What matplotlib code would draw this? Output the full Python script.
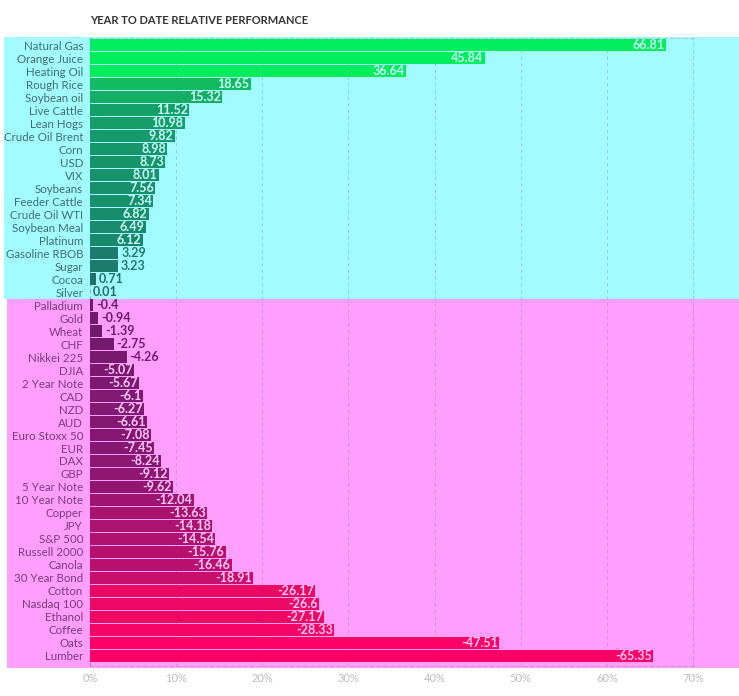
import numpy as np
import matplotlib.pyplot as plt
from matplotlib.colors import LinearSegmentedColormap
from matplotlib.patches import Rectangle
import matplotlib.transforms as mtransforms

plt.rcParams['font.family'] = ['Lato', 'DejaVu Sans']

# Year to date performance (%)
names = ['Natural Gas', 'Orange Juice', 'Heating Oil', 'Rough Rice', 'Soybean oil',
         'Live Cattle', 'Lean Hogs', 'Crude Oil Brent', 'Corn', 'USD', 'VIX',
         'Soybeans', 'Feeder Cattle', 'Crude Oil WTI', 'Soybean Meal', 'Platinum',
         'Gasoline RBOB', 'Sugar', 'Cocoa', 'Silver',
         'Palladium', 'Gold', 'Wheat', 'CHF', 'Nikkei 225', 'DJIA', '2 Year Note',
         'CAD', 'NZD', 'AUD', 'Euro Stoxx 50', 'EUR', 'DAX', 'GBP', '5 Year Note',
         '10 Year Note', 'Copper', 'JPY', 'S&P 500', 'Russell 2000', 'Canola',
         '30 Year Bond', 'Cotton', 'Nasdaq 100', 'Ethanol', 'Coffee', 'Oats', 'Lumber']
values = [66.81, 45.84, 36.64, 18.65, 15.32, 11.52, 10.98, 9.82, 8.98, 8.73, 8.01,
          7.56, 7.34, 6.82, 6.49, 6.12, 3.29, 3.23, 0.71, 0.01,
          -0.4, -0.94, -1.39, -2.75, -4.26, -5.07, -5.67, -6.1, -6.27, -6.61, -7.08,
          -7.45, -8.24, -9.12, -9.62, -12.04, -13.63, -14.18, -14.54, -15.76, -16.46,
          -18.91, -26.17, -26.6, -27.17, -28.33, -47.51, -65.35]
ticks = [0, 10, 20, 30, 40, 50, 60, 70]

pos_cmap = LinearSegmentedColormap.from_list(
    'pos', [(0.0, '#1f6f68'), (0.12, '#1b7f6c'), (0.2, '#178f6c'), (0.32, '#15a06a'),
            (0.55, '#13c062'), (1.0, '#00ee5e')])
neg_cmap = LinearSegmentedColormap.from_list(
    'neg', [(0.0, '#6c1a6c'), (0.2, '#801872'), (0.35, '#961570'), (0.6, '#c2106c'),
            (0.92, '#f00864'), (1.0, '#ff0066')])

fig = plt.figure(figsize=(7.39, 6.96), dpi=100)
ax = fig.add_axes([90 / 739, 1 - 666 / 696, 603 / 739, 628 / 696])

y = np.arange(len(values))
widths = np.abs(values)
colors = []
for v in values:
    if v >= 0:
        colors.append(pos_cmap(min(v / 36.0, 1.0)))
    else:
        colors.append(neg_cmap(min(-v / 30.0, 1.0)))

n_pos = sum(1 for v in values if v >= 0)

# background bands
trans = mtransforms.blended_transform_factory(ax.transAxes, ax.transData)
ax.add_patch(Rectangle((-0.143, -0.62), 1.3, n_pos + 0.12, transform=trans,
                       facecolor='#a2fcff', edgecolor='none', clip_on=False, zorder=0))
ax.add_patch(Rectangle((-0.138, n_pos - 0.5), 1.3, len(values) - n_pos + 0.4, transform=trans,
                       facecolor='#ff9efd', edgecolor='none', clip_on=False, zorder=0))

ax.barh(y, widths, height=0.88, color=colors, zorder=3)

for i, v in enumerate(values):
    w = abs(v)
    txt = str(v)
    if w >= 5:
        tc = '#c8fff8' if v >= 0 else '#ffc8f8'
        ax.text(w - 0.15, i, txt, ha='right', va='center', fontsize=9,
                fontweight='bold', color=tc, zorder=4)
    else:
        ax.text(w + 0.35, i, txt, ha='left', va='center', fontsize=9,
                fontweight='bold', color=colors[i], zorder=4)

ax.set_xlim(0, 70)
ax.set_ylim(len(values) - 1 + 0.77, -0.54)
ax.set_yticks(y)
ax.set_yticklabels(names, fontsize=8.3)
for i, lab in enumerate(ax.get_yticklabels()):
    lab.set_color('#3f6e70' if values[i] >= 0 else '#7c3a80')
ax.set_xticks(ticks)
ax.set_xticklabels([f'{t}%' for t in ticks], fontsize=8, color='#bbbbbb')
ax.tick_params(axis='y', length=0, pad=5)
ax.tick_params(axis='x', length=0, pad=5)

ax.set_facecolor('none')
ax.grid(axis='x', linestyle=(0, (3, 3)), color='#777777', alpha=0.3, linewidth=0.8, zorder=1)
for s in ax.spines.values():
    s.set_linestyle((0, (3, 3)))
    s.set_color('#777777')
    s.set_alpha(0.3)
    s.set_linewidth(0.8)

fig.text(90 / 739, 1 - 20 / 696, 'YEAR TO DATE RELATIVE PERFORMANCE', fontsize=8,
         fontweight='bold', color='#333333', va='center', ha='left')

fig.savefig('out.png', dpi=100)
